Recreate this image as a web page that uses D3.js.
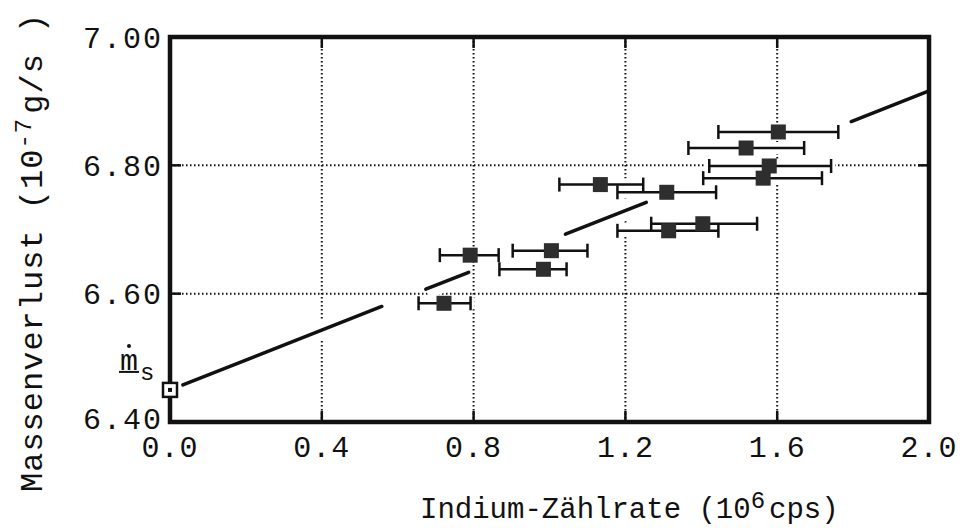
<!DOCTYPE html>
<html>
<head>
<meta charset="utf-8">
<script src="https://cdn.jsdelivr.net/npm/d3@7"></script>
<style>
  body { margin: 0; background: #fff; }
  svg { display: block; font-family: "Liberation Mono", "Courier New", monospace; }
</style>
</head>
<body>
<div id="chart"></div>
<script>
// data ---------------------------------------------------------------------------------------------
const countRate = [0.722, 0.791, 0.984, 1.005, 1.134, 1.309, 1.314, 1.404, 1.518, 1.563, 1.579, 1.603];
const massLoss  = [6.585, 6.660, 6.638, 6.667, 6.770, 6.758, 6.698, 6.709, 6.827, 6.780, 6.799, 6.852];
const rateLow   = [0.655, 0.711, 0.868, 0.903, 1.026, 1.179, 1.179, 1.268, 1.366, 1.405, 1.421, 1.445];
const rateHigh  = [0.792, 0.866, 1.045, 1.100, 1.247, 1.439, 1.445, 1.547, 1.671, 1.718, 1.742, 1.761];

// fitted line  m = ms + slope * rate, drawn in broken pieces like the original
const fitIntercept = 6.45;
const fitSlope = 0.233;
const fitFrom = [0.034, 0.674, 1.042, 1.795];
const fitTo   = [0.558, 0.787, 1.255, 2.000];

const xTicks = [0.0, 0.4, 0.8, 1.2, 1.6, 2.0];
const yTicks = [6.40, 6.60, 6.80, 7.00];

// layout -----------------------------------------------------------------------------------------
const width = 964, height = 528;
const margin = { top: 37, right: 35, bottom: 106, left: 170 };

const svg = d3.select('#chart').append('svg')
    .attr('width', width)
    .attr('height', height);

const x = d3.scaleLinear().domain([0, 2]).range([margin.left, width - margin.right]);
const y = d3.scaleLinear().domain([6.4, 7.0]).range([height - margin.bottom, margin.top]);

const ink = '#111';

// dotted grid
const grid = svg.append('g')
    .attr('stroke', ink)
    .attr('stroke-width', 2)
    .attr('stroke-dasharray', '1.5 2.5');

grid.selectAll('line.v')
    .data(xTicks.slice(1, -1))
    .join('line')
    .attr('class', 'v')
    .attr('x1', d => x(d)).attr('x2', d => x(d))
    .attr('y1', y(7.0)).attr('y2', y(6.4));

grid.selectAll('line.h')
    .data(yTicks.slice(1, -1))
    .join('line')
    .attr('class', 'h')
    .attr('x1', x(0)).attr('x2', x(2))
    .attr('y1', d => y(d)).attr('y2', d => y(d));

// inward ticks on all four sides
const tickLen = 11;
const ticks = svg.append('g').attr('stroke', ink).attr('stroke-width', 2.5);
xTicks.slice(1, -1).forEach(t => {
    ticks.append('line').attr('x1', x(t)).attr('x2', x(t)).attr('y1', y(6.4)).attr('y2', y(6.4) - tickLen);
    ticks.append('line').attr('x1', x(t)).attr('x2', x(t)).attr('y1', y(7.0)).attr('y2', y(7.0) + tickLen);
});
yTicks.slice(1, -1).forEach(t => {
    ticks.append('line').attr('x1', x(0)).attr('x2', x(0) + tickLen).attr('y1', y(t)).attr('y2', y(t));
    ticks.append('line').attr('x1', x(2)).attr('x2', x(2) - tickLen).attr('y1', y(t)).attr('y2', y(t));
});

// white halos break the grid where marks pass, as in the original plot
const fitLine = d3.line().x(d => x(d)).y(d => y(fitIntercept + fitSlope * d));
const halo = svg.append('g').attr('stroke', '#fff').attr('fill', '#fff');
fitFrom.forEach((f, i) => {
    halo.append('path').attr('d', fitLine([f, fitTo[i]])).attr('stroke-width', 20).attr('fill', 'none');
});
countRate.forEach((c, i) => {
    halo.append('line')
        .attr('x1', x(rateLow[i]) - 4).attr('x2', x(rateHigh[i]) + 4)
        .attr('y1', y(massLoss[i])).attr('y2', y(massLoss[i]))
        .attr('stroke-width', 12);
});

// fit line pieces
const fit = svg.append('g').attr('stroke', ink).attr('stroke-width', 3.5).attr('fill', 'none')
    .attr('stroke-linecap', 'round');
fitFrom.forEach((f, i) => {
    fit.append('path').attr('d', fitLine([f, fitTo[i]]));
});

// error bars
const capH = 14;
const bars = svg.append('g').attr('stroke', ink).attr('stroke-width', 2.5);
countRate.forEach((c, i) => {
    const yy = y(massLoss[i]);
    bars.append('line').attr('x1', x(rateLow[i])).attr('x2', x(rateHigh[i])).attr('y1', yy).attr('y2', yy);
    bars.append('line').attr('x1', x(rateLow[i])).attr('x2', x(rateLow[i])).attr('y1', yy - capH / 2).attr('y2', yy + capH / 2);
    bars.append('line').attr('x1', x(rateHigh[i])).attr('x2', x(rateHigh[i])).attr('y1', yy - capH / 2).attr('y2', yy + capH / 2);
});

// filled square markers
const sq = 15;
svg.append('g')
    .selectAll('rect')
    .data(countRate)
    .join('rect')
    .attr('x', d => x(d) - sq / 2)
    .attr('y', (d, i) => y(massLoss[i]) - sq / 2)
    .attr('width', sq)
    .attr('height', sq)
    .attr('fill', '#2e2e2e');

// frame
svg.append('rect')
    .attr('x', x(0)).attr('y', y(7.0))
    .attr('width', x(2) - x(0)).attr('height', y(6.4) - y(7.0))
    .attr('fill', 'none').attr('stroke', ink).attr('stroke-width', 4.5);

// open square for the intercept ms
const ms = svg.append('g').attr('transform', `translate(${x(0)},${y(fitIntercept)})`);
ms.append('rect').attr('x', -7).attr('y', -7).attr('width', 14).attr('height', 14)
    .attr('fill', '#fff').attr('stroke', ink).attr('stroke-width', 2.5);
ms.append('rect').attr('x', -2).attr('y', -2).attr('width', 4).attr('height', 4).attr('fill', ink);

// ms label (m with dot, underlined, subscript s)
const msLabel = svg.append('g').attr('transform', `translate(${x(0) - 50},${y(fitIntercept) - 20})`).attr('fill', ink);
msLabel.append('text').attr('x', 0).attr('y', 0).attr('font-size', 30).text('m');
msLabel.append('circle').attr('cx', 9).attr('cy', -24).attr('r', 2);
msLabel.append('line').attr('x1', -1).attr('x2', 19).attr('y1', 2).attr('y2', 2)
    .attr('stroke', ink).attr('stroke-width', 2);
msLabel.append('text').attr('x', 20).attr('y', 10).attr('font-size', 24).text('s');

// tick labels
svg.append('g')
    .selectAll('text')
    .data(xTicks)
    .join('text')
    .attr('x', d => x(d))
    .attr('y', y(6.4) + 35)
    .attr('text-anchor', 'middle')
    .attr('font-size', 30)
    .attr('letter-spacing', 1)
    .attr('fill', ink)
    .text(d => d.toFixed(1));

svg.append('g')
    .selectAll('text')
    .data(yTicks)
    .join('text')
    .attr('x', x(0) - 7)
    .attr('y', d => y(d))
    .attr('dy', d => d === 6.4 ? '0.22em' : '0.36em')
    .attr('text-anchor', 'end')
    .attr('font-size', 30)
    .attr('letter-spacing', 2)
    .attr('fill', ink)
    .text(d => d.toFixed(2));

// axis titles
const xTitle = svg.append('text')
    .attr('x', 420)
    .attr('y', 518)
    .attr('font-size', 29)
    .attr('fill', ink);
xTitle.append('tspan').text('Indium-Zählrate (10');
xTitle.append('tspan').attr('dy', -10).attr('font-size', 24).text('6');
xTitle.append('tspan').attr('dy', 10).attr('dx', 4).text('cps)');

const yTitle = svg.append('text')
    .attr('transform', 'translate(42,492) rotate(-90)')
    .attr('font-size', 32)
    .attr('letter-spacing', 1)
    .attr('fill', ink);
yTitle.append('tspan').text('Massenverlust (10');
yTitle.append('tspan').attr('dy', -11).attr('font-size', 24).text('-7');
yTitle.append('tspan').attr('dy', 11).attr('dx', 4).text('g/s )');
</script>
</body>
</html>
